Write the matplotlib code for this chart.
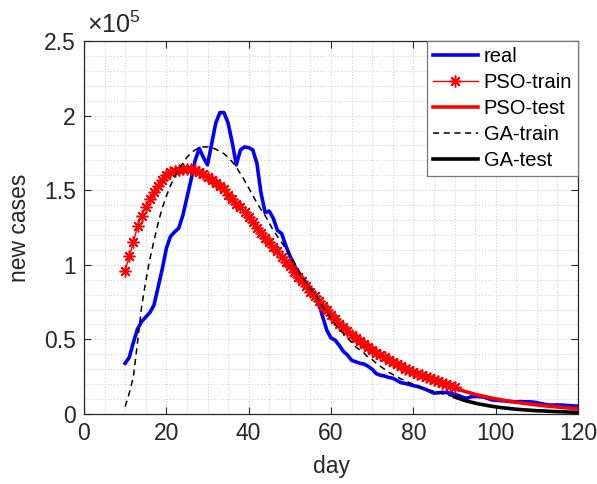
import matplotlib.pyplot as plt
import numpy as np
from matplotlib.ticker import MultipleLocator, FuncFormatter

plt.rcParams["font.family"] = ["Liberation Sans", "DejaVu Sans"]
plt.rcParams["mathtext.fontset"] = "custom"
plt.rcParams["mathtext.rm"] = "Liberation Sans"

# Reported new cases (thousands), days 10..120
real_days = np.arange(10, 121)
real_cases = [
    34, 38, 48, 57, 62, 65, 68, 73, 85, 97,
    111, 119, 122, 124.5, 133, 145, 157, 170, 178, 172,
    167, 181, 195, 202, 202, 195, 182, 167, 177, 179,
    178.5, 177, 168, 148, 135, 136, 131, 123, 121, 113,
    106, 100, 95, 91, 87.5, 84.5, 80, 74, 65, 56,
    51, 49.5, 46, 42, 39.5, 36, 35, 34, 33.5, 32,
    30, 27, 26, 25.5, 24.5, 24, 22.5, 21, 20.5, 19.8,
    19, 18.5, 17.5, 16.5, 15.2, 14, 14.2, 14.6, 14.3, 14,
    13.2, 12.4, 11.2, 10.6, 11.5, 11.8, 11.6, 11.4, 10.5, 9.5,
    9.2, 9, 8.8, 8.5, 8.3, 8.2, 8.3, 8.2, 8.2, 8,
    7.6, 7, 6.4, 6, 6, 6.1, 6, 5.8, 5.6, 5.4,
    5.3,
]

# Fitted curves (thousands)
train_days = np.arange(10, 91)
test_days = np.arange(90, 121)

pso_train = [
    96, 106, 115, 126, 133, 139, 144, 149, 153, 157,
    160, 162, 163, 163.5, 164, 164.5, 164.5, 163.5, 162, 161,
    159, 157, 155, 153, 150.5, 147, 144, 141, 138.5, 135.5,
    132, 128.5, 125, 121.5, 118, 115, 112, 109, 105.5, 102,
    99, 95.5, 92, 89, 85.5, 82, 79, 75.5, 72.5, 69.5,
    66.5, 63.5, 60.5, 58, 55.5, 53, 51, 49, 47, 45,
    43, 41, 39.5, 38, 36.5, 35, 33.5, 32, 30.5, 29.5,
    28, 27, 26, 25, 24, 23, 22, 21, 20, 19,
    18,
]
pso_test = [
    18, 16.5, 15.6, 14.8, 14, 13.2, 12.5, 11.9, 11.3, 10.7,
    10.2, 9.7, 9.2, 8.7, 8.3, 7.9, 7.5, 7.1, 6.8, 6.4,
    6.1, 5.8, 5.5, 5.2, 5.0, 4.7, 4.5, 4.2, 4.0, 3.8,
    3.6,
]
ga_train = [
    5, 14, 25, 48, 72, 89, 104, 116, 128, 138,
    146, 153, 159, 164, 168, 172, 175, 177, 178.5, 179,
    179, 178.5, 177.5, 176, 174.5, 172, 169, 165.5, 161, 156.5,
    151.5, 146.5, 141.5, 137, 133, 128, 123, 119, 115, 111,
    107, 102, 97, 92, 88, 84, 80.5, 76.5, 72, 68,
    64, 60, 57, 54, 51, 48, 45, 43, 41, 38,
    36.5, 34, 32, 30, 28, 26.5, 25, 23.5, 22.5, 21,
    20, 18.8, 17.7, 16.8, 16, 15.2, 14.4, 13.6, 12.8, 12.2,
    11.5,
]
ga_test = [
    11.5, 10.5, 9.5, 8.7, 8.0, 7.3, 6.7, 6.2, 5.7, 5.2,
    4.8, 4.4, 4.1, 3.8, 3.5, 3.2, 3.0, 2.8, 2.6, 2.4,
    2.2, 2.1, 2.0, 1.8, 1.7, 1.6, 1.5, 1.4, 1.3, 1.2,
    1.1,
]


def scaled(v):
    # thousands -> units of 1e5
    return np.array(v) * 1e3 / 1e5


fig = plt.figure(figsize=(5.97, 4.84), dpi=100)
ax = fig.add_axes([0.1407, 0.1446, 0.8275, 0.7707])

ax.plot(real_days, scaled(real_cases), color="#0000ff", lw=2.6, label="real")
ax.plot(train_days, scaled(pso_train), color="#ff0000", lw=1.0,
        marker=(8, 2, 0), ms=8.5, mew=1.1, label="PSO-train")
ax.plot(test_days, scaled(pso_test), color="#ff0000", lw=2.6, label="PSO-test")
ax.plot(train_days, scaled(ga_train), color="black", lw=1.1, ls=(0, (4, 3)),
        label="GA-train")
ax.plot(test_days, scaled(ga_test), color="black", lw=2.6, label="GA-test")

ax.set_xlim(0, 120)
ax.set_ylim(0, 2.5)
ax.xaxis.set_major_locator(MultipleLocator(20))
ax.xaxis.set_minor_locator(MultipleLocator(5))
ax.yaxis.set_major_locator(MultipleLocator(0.5))
ax.yaxis.set_minor_locator(MultipleLocator(0.1))
ax.yaxis.set_major_formatter(FuncFormatter(lambda v, p: "%g" % round(v, 2)))

ax.grid(which="both", color="#d4d4d4", ls=":", lw=0.8)
ax.set_axisbelow(True)
ax.tick_params(which="major", direction="in", length=5, width=0.8,
               top=True, right=True, labelsize=16.5, colors="#262626", pad=6)
ax.tick_params(which="minor", length=0, top=True, right=True)
for s in ax.spines.values():
    s.set_color("#262626")
    s.set_linewidth(0.9)

ax.set_xlabel("day", fontsize=16.5, color="#262626", labelpad=7)
ax.set_ylabel("new cases", fontsize=16.5, color="#262626", labelpad=9)
ax.text(0.006, 1.008, r"$\times10^{5}$", transform=ax.transAxes, fontsize=18,
        color="#262626", ha="left", va="bottom")

leg = ax.legend(loc="upper right", borderaxespad=0, fontsize=14.5,
                fancybox=False, framealpha=1, edgecolor="#777777",
                handlelength=2.2, handletextpad=0.3, labelspacing=0.35,
                borderpad=0.3, markerscale=1.0)
leg.get_frame().set_linewidth(0.9)

fig.savefig("out.png", dpi=100)
